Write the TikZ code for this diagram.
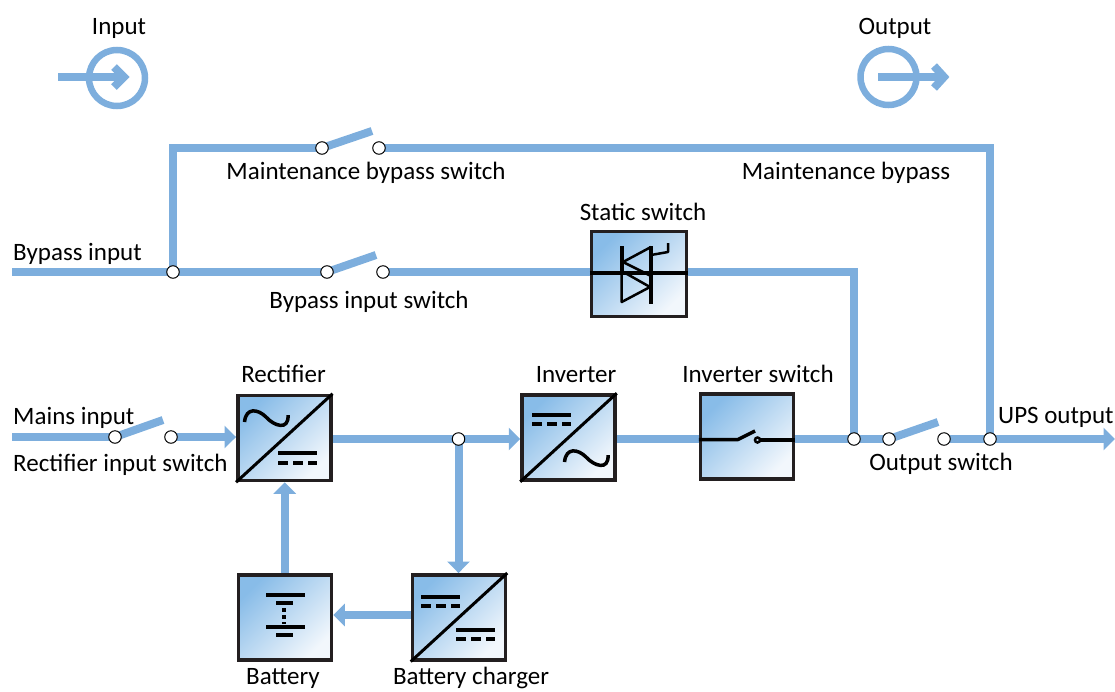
\documentclass[tikz,border=0pt]{standalone}
\usepackage{fontspec}
\setmainfont{Carlito}
\usetikzlibrary{arrows.meta,backgrounds}
\definecolor{bus}{HTML}{7DAEDD}
\definecolor{edge}{HTML}{231F20}
\definecolor{unittop}{HTML}{88BCE8}
\definecolor{unitbot}{HTML}{F2F7FC}
\tikzset{
  x=1pt,y=-1pt,
  busline/.style={draw=bus,line width=8pt},
  busarrow/.style={busline,-{Triangle[length=11.5pt,width=22pt]}},
  chevron/.style={draw=bus,line width=8pt,miter limit=10},
  ring/.style={draw=bus,line width=6.5pt},
  joint/.style={circle,draw=black,fill=white,line width=1pt,minimum size=12.5pt,inner sep=0pt,outer sep=0pt},
  unit/.style={rectangle,draw=edge,line width=3.5pt,minimum width=93pt,minimum height=85pt,inner sep=0pt,outer sep=1.75pt,
    top color=unittop,bottom color=unitbot,shading angle=45},
  sym/.style={draw=black,line width=3.5pt},
  symthick/.style={draw=black,line width=4pt},
  symthin/.style={draw=black,line width=3pt},
  dcdash/.style={draw=black,line width=4pt,dash pattern=on 10pt off 5pt},
  lbl/.style={font=\fontsize{25}{28}\selectfont,inner sep=0pt,text=black,anchor=base},
  lblw/.style={lbl,anchor=base west},
}
\begin{document}
\begin{tikzpicture}
\useasboundingbox (0,0) rectangle (1115,691);
% units
\node[unit] (rect) at (284.3,438) {};
\node[unit] (inv) at (568.5,437.5) {};
\node[unit] (invsw) at (747,436.5) {};
\node[unit,minimum width=95pt] (stat) at (639,274) {};
\node[unit] (batt) at (285,617.3) {};
\node[unit] (chg) at (459,617.3) {};
% joints
\node[joint] (mb1) at (322,148) {};
\node[joint] (mb2) at (379,148) {};
\node[joint] (by0) at (173,272) {};
\node[joint] (by1) at (327,272) {};
\node[joint] (by2) at (383,272) {};
\node[joint] (rs1) at (115,437) {};
\node[joint] (rs2) at (171,437) {};
\node[joint] (dc) at (458.5,439) {};
\node[joint] (j1) at (854,439) {};
\node[joint] (os1) at (889,439) {};
\node[joint] (os2) at (944,439) {};
\node[joint] (j2) at (990,439) {};
% free ends
\coordinate (bypin) at (12,272);
\coordinate (mainsin) at (12,437);
\coordinate (upsout) at (1115,439);
\coordinate (corner1) at (173,148);
\coordinate (corner2) at (990,148);
\coordinate (corner3) at (854,272);
\coordinate (blade1) at (372,131);
\coordinate (blade2) at (376,255);
\coordinate (blade3) at (163,420);
\coordinate (blade4) at (938,422);
\coordinate (lowy) at (0,615);
\coordinate (upx) at (284.7,0);
\begin{pgfonlayer}{background}
\draw[busline,line join=miter] (by0.center) -- (corner1) -- (mb1.center);
\draw[busline,line join=miter] (mb2.center) -- (corner2) -- (j2.center);
\draw[busline] (bypin) -- (by1.center);
\draw[busline] (by2.center) -- (stat.west |- by2);
\draw[busline,line join=miter] (stat.east |- by2) -- (corner3) -- (j1.center);
\draw[busline] (mainsin) -- (rs1.center);
\draw[busarrow] (rs2.center) -- (rect.west |- rs2);
\draw[busarrow] (rect.east |- dc) -- (inv.west |- dc);
\draw[busarrow] (dc.center) -- (dc |- chg.north);
\draw[busarrow] (chg.west |- lowy) -- (batt.east |- lowy);
\draw[busarrow] (upx |- batt.north) -- (upx |- rect.south);
\draw[busline] (inv.east |- dc) -- (invsw.west |- dc);
\draw[busline] (invsw.east |- dc) -- (os1.center);
\draw[busline] (os2.center) -- (j2.center);
\draw[busarrow] (j2.center) -- (upsout);
\draw[busline] (mb1.center) -- (blade1);
\draw[busline] (by1.center) -- (blade2);
\draw[busline] (rs1.center) -- (blade3);
\draw[busline] (os1.center) -- (blade4);
\end{pgfonlayer}
% legend icons
\coordinate (ina) at (58,77);
\coordinate (inb) at (124,77);
\coordinate (ouc) at (888.5,77);
\draw[ring] (117,78) circle (28);
\draw[busline] (ina) -- (inb);
\draw[chevron] (114,67) -- (124,77) -- (114,87);
\draw[ring] (ouc) circle (28);
\draw[busline] (878,77) -- (943,77);
\draw[chevron] (934,66) -- (944,77) -- (934,88);
% rectifier symbol
\draw[symthin] (rect.south west) -- (rect.north east);
\draw[sym] (244.5,422) .. controls (246,407) and (258,409) .. (266,417) .. controls (274,426) and (289,431) .. (288,415);
\draw[symthick] (278,453) -- (317,453);
\draw[dcdash] (278,462.7) -- (317,462.7);
% inverter symbol
\draw[symthin] (inv.south west) -- (inv.north east);
\draw[symthick] (532,415) -- (571,415);
\draw[dcdash] (532,424) -- (571,424);
\draw[sym] (564.5,462) .. controls (566,447) and (578,449) .. (586,457) .. controls (594,466) and (609,471) .. (608,455);
% charger symbol
\draw[symthin] (chg.south west) -- (chg.north east);
\draw[symthick] (421,596.7) -- (460,596.7);
\draw[dcdash] (421,606) -- (460,606);
\draw[symthick] (456,630) -- (495,630);
\draw[dcdash] (456,639) -- (495,639);
% battery symbol
\draw[symthick] (266,595) -- (305,595);
\draw[symthick] (276,603) -- (293,603);
\draw[draw=black,line width=4pt,dash pattern=on 4pt off 3pt] (284,608) -- (284,624);
\draw[symthick] (266,627) -- (305,627);
\draw[symthick] (276,635) -- (293,635);
% inverter switch symbol
\draw[sym,line join=round] (invsw.west |- 0,439.5) -- (738,439.5) -- (755,431);
\draw[draw=black,line width=2.5pt] (757.5,440) circle (2.5);
\draw[symthick] (760,439.5) -- (invsw.east |- 0,439.5);
% thyristors
\draw[symthick] (stat.west |- 0,272.7) -- (stat.east |- 0,272.7);
\draw[symthick] (621.7,246) -- (621.7,272);
\draw[draw=black,line width=2.5pt,line join=round] (651,247) -- (623,262) -- (651,276);
\draw[symthick] (651,246) -- (651,304);
\draw[draw=black,line width=2.5pt,line join=round] (621.7,271) -- (621.7,302) -- (650,287) -- (621.7,271);
\draw[draw=black,line width=2.5pt,line join=round] (651,255) -- (668,252) -- (668,243);
% labels
\node[lbl] (tInput) at (119,34.5) {Input};
\node[lbl] (tOutput) at (895,34) {Output};
\node[lbl] (tMbs) at (366,179) {Maintenance bypass switch};
\node[lbl] (tMb) at (846,179) {Maintenance bypass};
\node[lbl] (tStat) at (643,220) {Static switch};
\node[lblw] (tByp) at (13,260) {Bypass input};
\node[lbl] (tBys) at (369,308) {Bypass input switch};
\node[lbl] (tRect) at (283.5,382) {Rectifier};
\node[lbl] (tInv) at (576,382) {Inverter};
\node[lbl] (tIsw) at (758,382) {Inverter switch};
\node[lblw] (tMains) at (13,424) {Mains input};
\node[lblw] (tRis) at (13,471) {Rectifier input switch};
\node[lbl] (tOs) at (941,470) {Output switch};
\node[lblw] (tUps) at (998,423.5) {UPS output};
\node[lbl] (tBatt) at (283,684.5) {Battery};
\node[lbl] (tChg) at (471,684.5) {Battery charger};
\end{tikzpicture}
\end{document}
